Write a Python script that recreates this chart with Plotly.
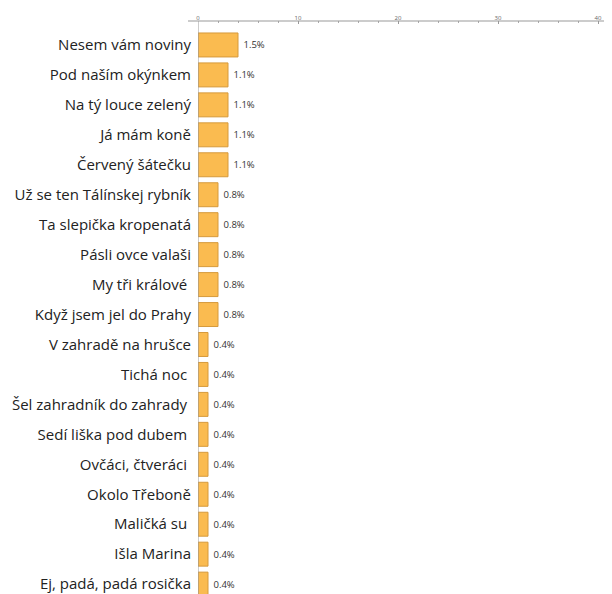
import plotly.graph_objects as go

songs = [
    "Nesem vám noviny", "Pod naším okýnkem", "Na tý louce zelený", "Já mám koně",
    "Červený šátečku", "Už se ten Tálínskej rybník", "Ta slepička kropenatá",
    "Pásli ovce valaši", "My tři králové\u00a0", "Když jsem jel do Prahy",
    "V zahradě na hrušce", "Tichá noc\u00a0", "Šel zahradník do zahrady\u00a0",
    "Sedí liška pod dubem\u00a0", "Ovčáci, čtveráci\u00a0", "Okolo Třeboně",
    "Maličká su\u00a0", "Išla Marina", "Ej, padá, padá rosička",
]
counts = [4, 3, 3, 3, 3, 2, 2, 2, 2, 2, 1, 1, 1, 1, 1, 1, 1, 1, 1]
pct_labels = ["1.5%", "1.1%", "1.1%", "1.1%", "1.1%", "0.8%", "0.8%", "0.8%", "0.8%",
              "0.8%", "0.4%", "0.4%", "0.4%", "0.4%", "0.4%", "0.4%", "0.4%", "0.4%", "0.4%"]
x_ticks = [0, 10, 20, 30, 40]

ypos = list(range(len(songs)))

fig = go.Figure(go.Bar(
    x=counts, y=ypos, orientation="h",
    marker=dict(color="#FABB50", line=dict(color="#D69A3C", width=1)),
    width=0.8,
    text=["\u00a0" + t for t in pct_labels], textposition="outside",
    textfont=dict(family="Open Sans", size=9.5, color="#333333"),
    cliponaxis=False,
))

fig.update_layout(
    width=604, height=586,
    margin=dict(l=190, r=7, t=13, b=0),
    paper_bgcolor="white", plot_bgcolor="white",
    showlegend=False,
    bargap=0.2,
    xaxis=dict(
        side="top", range=[0, 40.7], tickvals=x_ticks, automargin=False,
        showgrid=False, zeroline=False, showline=False,
        ticks="inside", ticklen=3, tickcolor="#999999",
        ticklabelstandoff=-1,
        tickfont=dict(family="Open Sans", size=6, color="#666666"),
        minor=dict(dtick=2, ticks="inside", ticklen=2, tickcolor="#aaaaaa"),
    ),
    yaxis=dict(
        range=[18.33, -0.8], tickvals=ypos, ticktext=songs, automargin=False,
        showgrid=False, zeroline=False, showline=False, ticks="",
        ticklabelstandoff=6,
        tickfont=dict(family="Open Sans", size=15, color="#222222"),
    ),
    shapes=[
        dict(type="line", xref="paper", yref="paper", x0=-10 / 407, x1=1, y0=1, y1=1,
             line=dict(color="#999999", width=1)),
        dict(type="line", xref="x", yref="paper", x0=0, x1=0, y0=0, y1=1,
             line=dict(color="#999999", width=1)),
    ],
)

fig.write_html("out.html")
